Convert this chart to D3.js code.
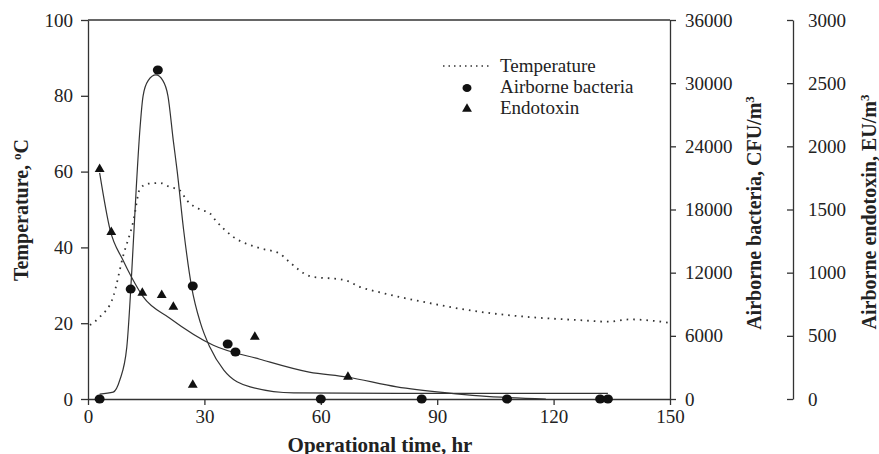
<!DOCTYPE html>
<html>
<head>
<meta charset="utf-8">
<script src="https://cdn.jsdelivr.net/npm/d3@7"></script>
<style>
  body { margin: 0; background: #fff; }
  svg text { font-family: "Liberation Serif", "Times New Roman", serif; fill: #222; }
  .axis path, .axis line { stroke: #333; stroke-width: 1.3; }
  .axis text { font-size: 19px; }
  .title { font-size: 20px; font-weight: bold; }
</style>
</head>
<body>
<div id="chart"></div>
<script>
// operational time (hr), temperature (degC)
var tempTime = [0.5, 3, 6.5, 9, 11.7, 13.4, 15.5, 18.6, 21, 23.7, 25.4, 28.9, 31.4, 33, 37.4, 44.3, 49.5, 51.3, 57.2, 59.8, 63, 66.7, 70, 75, 88, 101, 114, 126.8, 134, 139.7, 150];
var tempVal  = [19.5, 21.6, 27, 37.5, 47, 55.5, 56.8, 57, 56, 55, 52.5, 50, 49, 47, 42.8, 39.8, 38.3, 36.7, 32.4, 32, 31.8, 31.2, 29.6, 28.2, 25.3, 23, 21.6, 20.8, 20.4, 21, 20.1];

// airborne bacteria measurements (CFU/m3)
var bactTime = [3, 11, 18, 27, 36, 38, 60, 86, 108, 132, 134];
var bactVal  = [0, 10440, 31250, 10730, 5220, 4460, 0, 0, 0, 0, 0];

// fitted bacteria curve
var bactFitTime = [3, 6.5, 8.2, 10, 11.3, 12.4, 13.3, 14.2, 15.5, 17.5, 19.3, 20.6, 22, 23, 24.6, 26.7, 29, 31.4, 35, 41.8, 53, 80, 134];
var bactFitVal  = [470, 650, 1800, 4930, 12240, 19800, 25200, 28800, 30240, 30780, 30240, 28800, 24500, 21600, 16200, 10660, 7200, 4930, 2740, 1150, 580, 540, 540];

// airborne endotoxin measurements (EU/m3)
var endoTime = [3, 6, 14, 19, 22, 27, 43, 67];
var endoVal  = [1820, 1320, 840, 822, 728, 111, 491, 174];

// fitted endotoxin curve
var endoFitTime = [3, 5.7, 9, 11.3, 14.2, 21, 32.3, 44.3, 57, 66.7, 79.6, 92.5, 101, 118];
var endoFitVal  = [1790, 1338, 1100, 960, 810, 642, 426, 315, 213, 174, 96, 48, 24, 0];

var xTicks = [0, 30, 60, 90, 120, 150];
var tempTicks = [0, 20, 40, 60, 80, 100];
var bactTicks = [0, 6000, 12000, 18000, 24000, 30000, 36000];
var endoTicks = [0, 500, 1000, 1500, 2000, 2500, 3000];

var width = 879, height = 454;
var mLeft = 88, mRight = 670, mTop = 20, mBottom = 399;

var svg = d3.select("#chart").append("svg")
    .attr("width", width).attr("height", height);

var x = d3.scaleLinear().domain([0, 150]).range([mLeft, mRight]);
var yT = d3.scaleLinear().domain([0, 100]).range([mBottom, mTop]);
var yB = d3.scaleLinear().domain([0, 36000]).range([mBottom, mTop]);
var yE = d3.scaleLinear().domain([0, 3000]).range([mBottom, mTop]);
var fmt = d3.format("d");

// top frame line
svg.append("line")
    .attr("x1", mLeft).attr("x2", mRight).attr("y1", mTop).attr("y2", mTop)
    .attr("stroke", "#333").attr("stroke-width", 1.3);

svg.append("g").attr("class", "axis")
    .attr("transform", "translate(0," + mBottom + ")")
    .call(d3.axisBottom(x).tickValues(xTicks).tickFormat(fmt).tickSize(6).tickPadding(5).tickSizeOuter(0));

svg.append("g").attr("class", "axis")
    .attr("transform", "translate(" + mLeft + ",0)")
    .call(d3.axisLeft(yT).tickValues(tempTicks).tickFormat(fmt).tickSize(7).tickPadding(8).tickSizeOuter(0));

svg.append("g").attr("class", "axis")
    .attr("transform", "translate(" + mRight + ",0)")
    .call(d3.axisRight(yB).tickValues(bactTicks).tickFormat(fmt).tickSize(6).tickPadding(9).tickSizeOuter(0));

svg.append("g").attr("class", "axis")
    .attr("transform", "translate(793,0)")
    .call(d3.axisRight(yE).tickValues(endoTicks).tickFormat(fmt).tickSize(-6).tickPadding(15).tickSizeOuter(0));

// temperature dotted line
var tempData = tempTime.map(function(t, i) { return [t, tempVal[i]]; });
svg.append("path")
    .datum(tempData)
    .attr("fill", "none")
    .attr("stroke", "#333")
    .attr("stroke-width", 1.8)
    .attr("stroke-dasharray", "1.6,5")
    .attr("d", d3.line()
        .x(function(d) { return x(d[0]); })
        .y(function(d) { return yT(d[1]); })
        .curve(d3.curveMonotoneX));

// fitted curves
var bactFit = bactFitTime.map(function(t, i) { return [t, bactFitVal[i]]; });
svg.append("path")
    .datum(bactFit)
    .attr("fill", "none").attr("stroke", "#333").attr("stroke-width", 1.2)
    .attr("d", d3.line()
        .x(function(d) { return x(d[0]); })
        .y(function(d) { return yB(d[1]); })
        .curve(d3.curveMonotoneX));

var endoFit = endoFitTime.map(function(t, i) { return [t, endoFitVal[i]]; });
svg.append("path")
    .datum(endoFit)
    .attr("fill", "none").attr("stroke", "#333").attr("stroke-width", 1.2)
    .attr("d", d3.line()
        .x(function(d) { return x(d[0]); })
        .y(function(d) { return yE(d[1]); })
        .curve(d3.curveMonotoneX));

// points
svg.append("g").selectAll("ellipse")
    .data(bactTime.map(function(t, i) { return [t, bactVal[i]]; }))
    .enter().append("ellipse")
      .attr("cx", function(d) { return x(d[0]); })
      .attr("cy", function(d) { return yB(d[1]); })
      .attr("rx", 5).attr("ry", 4.5)
      .attr("fill", "#111");

var tri = d3.symbol().type(d3.symbolTriangle).size(42);
svg.append("g").selectAll("path")
    .data(endoTime.map(function(t, i) { return [t, endoVal[i]]; }))
    .enter().append("path")
      .attr("d", tri)
      .attr("transform", function(d) { return "translate(" + x(d[0]) + "," + yE(d[1]) + ")"; })
      .attr("fill", "#111");

// legend
var lg = svg.append("g").attr("transform", "translate(443,66)");
lg.append("line").attr("x1", 0).attr("x2", 46).attr("y1", 0).attr("y2", 0)
    .attr("stroke", "#333").attr("stroke-width", 1.6).attr("stroke-dasharray", "1.5,4");
lg.append("ellipse").attr("cx", 24).attr("cy", 22).attr("rx", 4.5).attr("ry", 4).attr("fill", "#111");
lg.append("path").attr("d", tri).attr("transform", "translate(24,43)").attr("fill", "#111");
var legendNames = ["Temperature", "Airborne bacteria", "Endotoxin"];
lg.selectAll("text.lab").data(legendNames).enter().append("text")
    .attr("x", 57).attr("y", function(d, i) { return i * 21 + 6; })
    .style("font-size", "19px")
    .text(function(d) { return d; });

// axis titles
var t1 = svg.append("text").attr("class", "title")
    .attr("transform", "translate(28,210) rotate(-90)")
    .attr("text-anchor", "middle");
t1.append("tspan").text("Temperature, ");
t1.append("tspan").attr("baseline-shift", "super").style("font-size", "13px").text("o");
t1.append("tspan").text("C");

var t2 = svg.append("text").attr("class", "title")
    .attr("transform", "translate(761,213) rotate(-90)")
    .attr("text-anchor", "middle");
t2.append("tspan").text("Airborne bacteria, CFU/m");
t2.append("tspan").attr("baseline-shift", "super").style("font-size", "13px").text("3");

var t3 = svg.append("text").attr("class", "title")
    .attr("transform", "translate(876,212) rotate(-90)")
    .attr("text-anchor", "middle");
t3.append("tspan").text("Airborne endotoxin, EU/m");
t3.append("tspan").attr("baseline-shift", "super").style("font-size", "13px").text("3");

svg.append("text").attr("class", "title")
    .attr("x", 380).attr("y", 452)
    .attr("text-anchor", "middle")
    .style("font-size", "21px")
    .text("Operational time, hr");
</script>
</body>
</html>
